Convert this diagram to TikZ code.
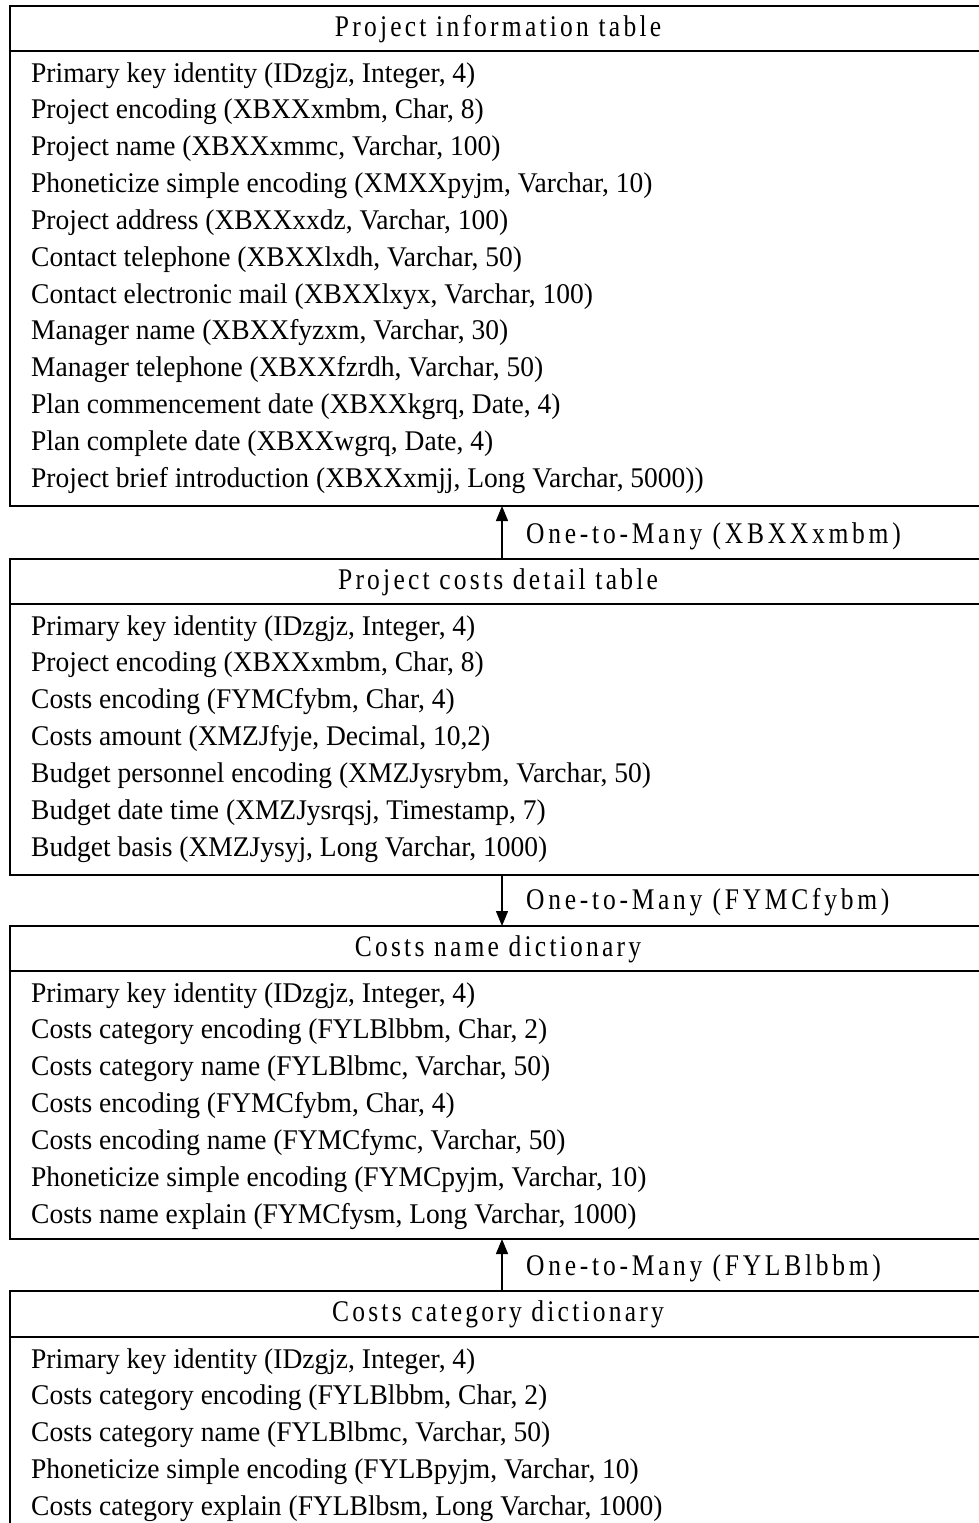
\documentclass[tikz,border=0pt]{standalone}
\usepackage{fontspec}
\setmainfont[FakeStretch=0.965]{Liberation Serif}
\newfontfamily\ttlfont[FakeStretch=0.85,LetterSpace=10.8]{Liberation Serif}
\newfontfamily\lblfont[FakeStretch=0.85,LetterSpace=12.5]{Liberation Serif}
\usetikzlibrary{arrows.meta}
\tikzset{
  tbl/.style={draw, line width=1.8pt, minimum width=984pt, anchor=north west, inner sep=0pt, outer sep=0pt},
  sep/.style={line width=1.8pt},
  row/.style={anchor=base west, inner sep=0pt, font=\fontsize{28.5}{33}\selectfont},
  ttl/.style={anchor=base, inner sep=0pt, font=\ttlfont\fontsize{30}{34}\selectfont},
  lbl/.style={anchor=base west, inner sep=0pt, font=\lblfont\fontsize{30}{34}\selectfont},
  conn/.style={line width=1.3pt, -{Triangle[length=15pt,width=12pt]}}
}
\begin{document}
\begin{tikzpicture}[x=1pt,y=-1pt]
\useasboundingbox (0,0) rectangle (979,1523);
\clip (0,0) rectangle (979,1523);
% tables
\node[tbl, minimum height=500pt] (t1) at (10,6) {};
\node[tbl, minimum height=316pt] (t2) at (10,559) {};
\node[tbl, minimum height=313pt] (t3) at (10,926) {};
\node[tbl, minimum height=300pt] (t4) at (10,1291) {};
% separators
\draw[sep] (10,51) -- (994,51);
\draw[sep] (10,604) -- (994,604);
\draw[sep] (10,971) -- (994,971);
\draw[sep] (10,1337) -- (994,1337);
% titles
\node[ttl] (t1t) at (498,36) {Project information table};
\node[ttl] (t2t) at (498,589) {Project costs detail table};
\node[ttl] (t3t) at (498,956) {Costs name dictionary};
\node[ttl] (t4t) at (498,1321) {Costs category dictionary};
% rows table 1
\foreach \t [count=\i] in {
 {Primary key identity (IDzgjz, Integer, 4)},
 {Project encoding (XBXXxmbm, Char, 8)},
 {Project name (XBXXxmmc, Varchar, 100)},
 {Phoneticize simple encoding (XMXXpyjm, Varchar, 10)},
 {Project address (XBXXxxdz, Varchar, 100)},
 {Contact telephone (XBXXlxdh, Varchar, 50)},
 {Contact electronic mail (XBXXlxyx, Varchar, 100)},
 {Manager name (XBXXfyzxm, Varchar, 30)},
 {Manager telephone (XBXXfzrdh, Varchar, 50)},
 {Plan commencement date (XBXXkgrq, Date, 4)},
 {Plan complete date (XBXXwgrq, Date, 4)},
 {Project brief introduction (XBXXxmjj, Long Varchar, 5000))}}
 \node[row] (t1r\i) at (31,{82+36.85*(\i-1)}) {\t};
% rows table 2
\foreach \t [count=\i] in {
 {Primary key identity (IDzgjz, Integer, 4)},
 {Project encoding (XBXXxmbm, Char, 8)},
 {Costs encoding (FYMCfybm, Char, 4)},
 {Costs amount (XMZJfyje, Decimal, 10,2)},
 {Budget personnel encoding (XMZJysrybm, Varchar, 50)},
 {Budget date time (XMZJysrqsj, Timestamp, 7)},
 {Budget basis (XMZJysyj, Long Varchar, 1000)}}
 \node[row] (t2r\i) at (31,{635+36.85*(\i-1)}) {\t};
% rows table 3
\foreach \t [count=\i] in {
 {Primary key identity (IDzgjz, Integer, 4)},
 {Costs category encoding (FYLBlbbm, Char, 2)},
 {Costs category name (FYLBlbmc, Varchar, 50)},
 {Costs encoding (FYMCfybm, Char, 4)},
 {Costs encoding name (FYMCfymc, Varchar, 50)},
 {Phoneticize simple encoding (FYMCpyjm, Varchar, 10)},
 {Costs name explain (FYMCfysm, Long Varchar, 1000)}}
 \node[row] (t3r\i) at (31,{1002+36.85*(\i-1)}) {\t};
% rows table 4
\foreach \t [count=\i] in {
 {Primary key identity (IDzgjz, Integer, 4)},
 {Costs category encoding (FYLBlbbm, Char, 2)},
 {Costs category name (FYLBlbmc, Varchar, 50)},
 {Phoneticize simple encoding (FYLBpyjm, Varchar, 10)},
 {Costs category explain (FYLBlbsm, Long Varchar, 1000)}}
 \node[row] (t4r\i) at (31,{1368+36.85*(\i-1)}) {\t};
% connectors
\draw[conn] (t2.north) -- (t1.south);
\draw[conn] (t2.south) -- (t3.north);
\draw[conn] (t4.north) -- (t3.south);
% labels
\node[lbl] (l1) at (526,543) {One-to-Many (XBXXxmbm)};
\node[lbl] (l2) at (526,909) {One-to-Many (FYMCfybm)};
\node[lbl] (l3) at (526,1275) {One-to-Many (FYLBlbbm)};
\end{tikzpicture}
\end{document}
